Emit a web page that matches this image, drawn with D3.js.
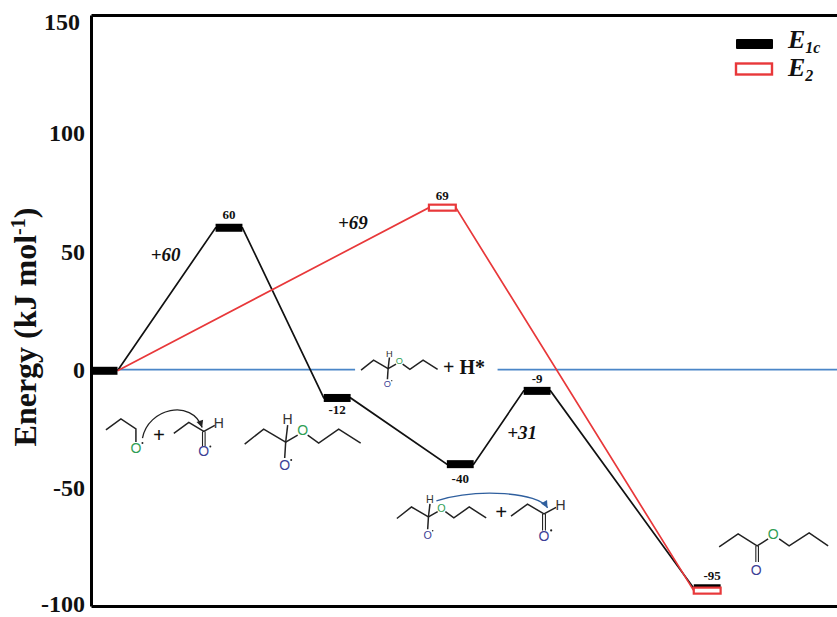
<!DOCTYPE html>
<html>
<head>
<meta charset="utf-8">
<script src="https://cdn.jsdelivr.net/npm/d3@7"></script>
<style>
  html, body { margin: 0; background: #fff; overflow: hidden; }
  text { font-family: "Liberation Serif", serif; }
</style>
</head>
<body>
<svg id="chart" width="837" height="617"></svg>
<script>
// reaction coordinate of each level (0-100 along the x axis)
const e1cCoords = [1.75, 18.5, 33, 49.5, 59.8, 82.6];
const e1cEnergies = [-0.5, 60, -12, -40, -9, -92.5];
const e1cLabels = ["", "60", "-12", "-40", "-9", "-95"];
const e2Coords = [1.75, 47.1, 82.6];
const e2Energies = [-0.5, 68.5, -93.5];
const e2Labels = ["", "69", ""];
const yTicks = [150, 100, 50, 0, -50, -100];

const width = 837;
const height = 617;
const margin = { top: 15, right: 0, bottom: 11, left: 91 };

const x = d3.scaleLinear().domain([0, 100]).range([margin.left, width - margin.right]);
const y = d3.scaleLinear().domain([-100, 150]).range([height - margin.bottom, margin.top]);

const svg = d3.select("#chart");
const levelHalf = 1.8; // half bar width, in x units

//baseline at zero, broken around the "+ H*" text
const zeroSegments = [[3.5, 35.4], [54.5, 100]];
svg.append("g").selectAll("line")
  .data(zeroSegments)
  .join("line")
  .attr("x1", d => x(d[0]))
  .attr("x2", d => x(d[1]))
  .attr("y1", y(0))
  .attr("y2", y(0))
  .attr("stroke", "#4a86c8")
  .attr("stroke-width", 1.6);

//connector lines run from the end of one level to the start of the next
const connector = (coords, energies) => {
  const pts = [];
  coords.forEach((c, i) => {
    if (i > 0) pts.push([c - levelHalf, energies[i]]);
    if (i < coords.length - 1) pts.push([c + levelHalf, energies[i]]);
  });
  return pts;
};
const line = d3.line().x(d => x(d[0])).y(d => y(d[1]));

svg.append("path")
  .attr("d", line(connector(e1cCoords, e1cEnergies)))
  .attr("fill", "none").attr("stroke", "#111").attr("stroke-width", 1.7);
svg.append("path")
  .attr("d", line(connector(e2Coords, e2Energies)))
  .attr("fill", "none").attr("stroke", "#e8383a").attr("stroke-width", 1.7);

//energy levels
svg.append("g").selectAll("rect")
  .data(e1cCoords.map((c, i) => ({ c, e: e1cEnergies[i] })))
  .join("rect")
  .attr("x", d => x(d.c - levelHalf))
  .attr("width", d => x(levelHalf * 2) - x(0))
  .attr("y", d => y(d.e) - 4)
  .attr("height", 8)
  .attr("fill", "#000");

svg.append("g").selectAll("rect")
  .data(e2Coords.slice(1).map((c, i) => ({ c, e: e2Energies[i + 1] })))
  .join("rect")
  .attr("x", d => x(d.c - levelHalf))
  .attr("width", d => x(levelHalf * 2) - x(0))
  .attr("y", d => y(d.e) - 3)
  .attr("height", 6)
  .attr("fill", "#fff")
  .attr("stroke", "#e8383a")
  .attr("stroke-width", 2.2);

//axes
const yAxis = d3.axisLeft(y).tickValues(yTicks).tickSize(0).tickPadding(6).tickFormat(d => String(d));
const yG = svg.append("g").attr("transform", `translate(${margin.left},0)`).call(yAxis);
yG.select(".domain").attr("stroke", "#000").attr("stroke-width", 3);
yG.selectAll("text")
  .style("font-family", "'Liberation Serif', serif")
  .style("font-size", "24px")
  .style("font-weight", "bold")
  .attr("fill", "#111");
yG.selectAll(".tick").filter(d => d === 150).select("text")
  .attr("x", -11).attr("dy", "0.61em");
yG.selectAll(".tick").filter(d => d === -100).select("text")
  .attr("dy", "0.22em");

const xG = svg.append("g").attr("transform", `translate(0,${y(-100)})`)
  .call(d3.axisBottom(x).tickValues([]).tickSize(0));
xG.select(".domain").attr("stroke", "#000").attr("stroke-width", 3);
const topG = svg.append("g").attr("transform", `translate(0,${y(150)})`)
  .call(d3.axisTop(x).tickValues([]).tickSize(0));
topG.select(".domain").attr("stroke", "#000").attr("stroke-width", 3);

const yTitle = svg.append("text")
  .attr("transform", "translate(36,327) rotate(-90)")
  .attr("text-anchor", "middle")
  .attr("font-size", 32)
  .attr("font-weight", "bold")
  .attr("fill", "#111");
yTitle.append("tspan").text("Energy (kJ mol");
yTitle.append("tspan").attr("font-size", 20).attr("dy", -11).text("-1");
yTitle.append("tspan").attr("dy", 11).text(")");

//level value labels
const labelOffsets = { "60": -9, "69": -8, "-12": 16, "-40": 19, "-9": -8, "-95": -8 };
const levelLabels = [
  ...e1cCoords.map((c, i) => ({ c, e: e1cEnergies[i], t: e1cLabels[i] })),
  ...e2Coords.map((c, i) => ({ c, e: e2Energies[i], t: e2Labels[i] }))
].filter(d => d.t !== "");
svg.append("g").selectAll("text")
  .data(levelLabels)
  .join("text")
  .attr("x", d => x(d.c) + (d.t === "-95" ? 5 : 0))
  .attr("y", d => y(d.e) + labelOffsets[d.t])
  .attr("text-anchor", "middle")
  .attr("font-size", 13)
  .attr("font-weight", "bold")
  .attr("fill", "#111")
  .text(d => d.t);

//barrier labels
const barrierTexts = ["+60", "+69", "+31"];
const barrierCoords = [10, 35.1, 57.8];
const barrierEnergies = [46, 59.5, -29.5];
svg.append("g").selectAll("text")
  .data(barrierTexts)
  .join("text")
  .attr("x", (d, i) => x(barrierCoords[i]))
  .attr("y", (d, i) => y(barrierEnergies[i]))
  .attr("text-anchor", "middle")
  .attr("font-size", 19)
  .attr("font-weight", "bold")
  .attr("font-style", "italic")
  .attr("fill", "#111")
  .text(d => d);

svg.append("text")
  .attr("x", x(50)).attr("y", y(-2))
  .attr("text-anchor", "middle")
  .attr("font-size", 20)
  .attr("font-weight", "bold")
  .attr("fill", "#111")
  .text("+ H*");

//legend
const legend = svg.append("g").attr("transform", "translate(736,39)");
legend.append("rect").attr("width", 37).attr("height", 10).attr("rx", 1).attr("fill", "#000");
legend.append("rect").attr("y", 24.5).attr("width", 36).attr("height", 11)
  .attr("fill", "#fff").attr("stroke", "#e8383a").attr("stroke-width", 2.4);
const addLegendText = (top, main, sub) => {
  const t = legend.append("text").attr("x", 52).attr("y", top)
    .attr("font-size", 26).attr("font-weight", "bold").attr("font-style", "italic").attr("fill", "#111");
  t.append("tspan").text(main);
  t.append("tspan").attr("font-size", 16).attr("dy", 5).text(sub);
};
addLegendText(9, "E", "1c");
addLegendText(37, "E", "2");

//skeletal structures, local coordinates from an anchor placed with the scales
const green = "#2f9e55";
const navy = "#3c3f96";
const propoxy = {
  chains: [[[0, 0], [15, -11], [30, -1], [30, 12]]],
  atoms: [{ p: [30, 18], t: "O", c: green, dot: true }]
};
const propanal = {
  chains: [[[0, 0], [15, -11], [30, -2], [41, -8]]],
  doubles: [[[30, -2], [30, 13]]],
  atoms: [{ p: [45, -10], t: "H", c: "#333" }, { p: [30, 18], t: "O", c: navy, dot: true }]
};
const ether = {
  chains: [[[0, 0], [19, -15], [41, -2], [53, -9]], [[63, -9], [74, -1], [94, -15], [116, -1]], [[41, -2], [43, -19]], [[41, -2], [40, 14]]],
  atoms: [{ p: [43, -25], t: "H", c: "#333" }, { p: [40, 21], t: "O", c: navy, dot: true }, { p: [58, -14], t: "O", c: green }]
};
const ester = {
  chains: [[[0, 0], [19, -13], [38, -1], [49, -8]], [[60, -8], [70, -1], [90, -14], [109, -1]]],
  doubles: [[[38, -1], [38, 15]]],
  atoms: [{ p: [37, 23], t: "O", c: navy }, { p: [54, -13], t: "O", c: green }]
};

const drawMolecule = (mol, coord, energy, scale) => {
  const g = svg.append("g").attr("transform", `translate(${x(coord)},${y(energy)}) scale(${scale})`);
  const bond = d3.line();
  g.selectAll("path.chain")
    .data(mol.chains)
    .join("path")
    .attr("class", "chain")
    .attr("d", bond)
    .attr("fill", "none")
    .attr("stroke", "#222")
    .attr("stroke-width", 1.5 / scale);
  (mol.doubles || []).forEach(d => {
    [-1.3, 1.3].forEach(off => {
      g.append("path")
        .attr("d", bond(d.map(p => [p[0] + off, p[1]])))
        .attr("stroke", "#222")
        .attr("stroke-width", 1.1 / scale);
    });
  });
  g.selectAll("text")
    .data(mol.atoms)
    .join("text")
    .attr("x", d => d.p[0])
    .attr("y", d => d.p[1])
    .attr("dy", "0.36em")
    .attr("text-anchor", "middle")
    .style("font-family", "'Liberation Sans', sans-serif")
    .attr("font-size", Math.min(14, 14 / scale))
    .attr("fill", d => d.c)
    .text(d => d.t);
  g.selectAll("circle")
    .data(mol.atoms.filter(d => d.dot))
    .join("circle")
    .attr("cx", d => d.p[0] + 6.5)
    .attr("cy", d => d.p[1] - 5)
    .attr("r", 1)
    .attr("fill", "#222");
};

drawMolecule(propoxy, 2, -25.5, 1);
drawMolecule(propanal, 11.1, -27, 1);
drawMolecule(ether, 20.6, -31.5, 1);
drawMolecule(ether, 36.2, -0.2, 0.66);
drawMolecule(ether, 41, -63, 0.77);
drawMolecule(propanal, 56.3, -62, 1.1);
drawMolecule(ester, 84.2, -75, 1);

//plus signs between reactants
const plusCoords = [9.1, 55];
const plusEnergies = [-27.5, -60];
svg.append("g").selectAll("text")
  .data(plusCoords)
  .join("text")
  .attr("x", d => x(d))
  .attr("y", (d, i) => y(plusEnergies[i]))
  .attr("dy", "0.36em")
  .attr("text-anchor", "middle")
  .attr("font-size", 21)
  .attr("font-weight", "bold")
  .attr("fill", "#111")
  .text("+");

//curved electron arrows
const drawArrow = (color, pts) => {
  const [p0, c1, c2, p1] = pts.map(p => [x(p[0]), y(p[1])]);
  const path = d3.path();
  path.moveTo(p0[0], p0[1]);
  path.bezierCurveTo(c1[0], c1[1], c2[0], c2[1], p1[0], p1[1]);
  svg.append("path").attr("d", path.toString()).attr("fill", "none").attr("stroke", color).attr("stroke-width", 1.3);
  const a = Math.atan2(p1[1] - c2[1], p1[0] - c2[0]) * 180 / Math.PI;
  svg.append("path")
    .attr("d", "M0,0L-7,-3.5L-7,3.5Z")
    .attr("transform", `translate(${p1[0]},${p1[1]}) rotate(${a})`)
    .attr("fill", color);
};
drawArrow("#222", [[6.9, -29], [7.6, -16.5], [13.5, -12], [14.9, -24.5]]);
drawArrow("#2f5f9e", [[46.3, -55.5], [52, -50], [60, -52], [61.2, -58.5]]);
</script>
</body>
</html>
